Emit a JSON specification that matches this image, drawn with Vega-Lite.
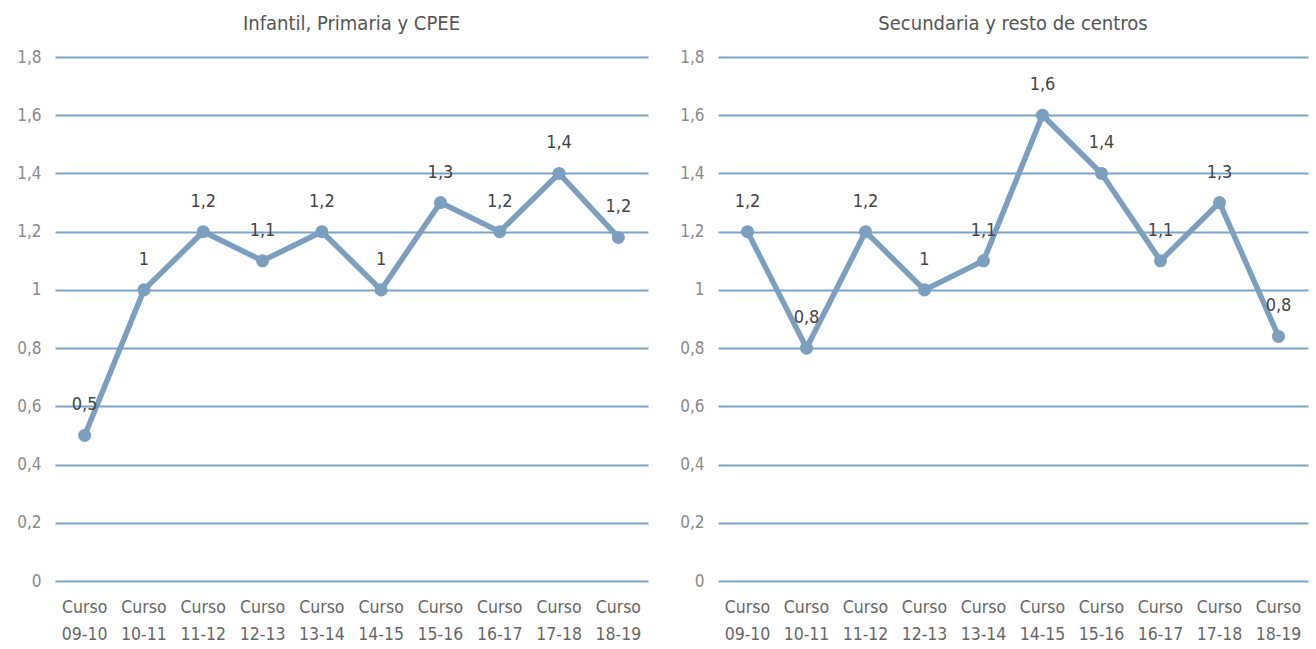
{
  "$schema": "https://vega.github.io/schema/vega-lite/v6.json",
  "background": "white",
  "padding": {"left": 16, "top": 14, "right": 5, "bottom": 5},
  "config": {
    "locale": {"number": {"decimal": ",", "thousands": ".", "grouping": [3], "currency": ["", " €"]}},
    "view": {"stroke": null},
    "font": "DejaVu Sans Condensed, Roboto, sans-serif",
    "concat": {"spacing": 31},
    "title": {"font": "DejaVu Sans Condensed, Roboto, sans-serif", "fontSize": 20, "fontWeight": "normal", "color": "#555555", "anchor": "middle", "offset": 14}
  },
  "datasets": {
    "infantil": [
      {"curso": "Curso 09-10", "valor": 0.5, "etiqueta": "0,5"},
      {"curso": "Curso 10-11", "valor": 1.0, "etiqueta": "1"},
      {"curso": "Curso 11-12", "valor": 1.2, "etiqueta": "1,2"},
      {"curso": "Curso 12-13", "valor": 1.1, "etiqueta": "1,1"},
      {"curso": "Curso 13-14", "valor": 1.2, "etiqueta": "1,2"},
      {"curso": "Curso 14-15", "valor": 1.0, "etiqueta": "1"},
      {"curso": "Curso 15-16", "valor": 1.3, "etiqueta": "1,3"},
      {"curso": "Curso 16-17", "valor": 1.2, "etiqueta": "1,2"},
      {"curso": "Curso 17-18", "valor": 1.4, "etiqueta": "1,4"},
      {"curso": "Curso 18-19", "valor": 1.18, "etiqueta": "1,2"}
    ],
    "secundaria": [
      {"curso": "Curso 09-10", "valor": 1.2, "etiqueta": "1,2"},
      {"curso": "Curso 10-11", "valor": 0.8, "etiqueta": "0,8"},
      {"curso": "Curso 11-12", "valor": 1.2, "etiqueta": "1,2"},
      {"curso": "Curso 12-13", "valor": 1.0, "etiqueta": "1"},
      {"curso": "Curso 13-14", "valor": 1.1, "etiqueta": "1,1"},
      {"curso": "Curso 14-15", "valor": 1.6, "etiqueta": "1,6"},
      {"curso": "Curso 15-16", "valor": 1.4, "etiqueta": "1,4"},
      {"curso": "Curso 16-17", "valor": 1.1, "etiqueta": "1,1"},
      {"curso": "Curso 17-18", "valor": 1.3, "etiqueta": "1,3"},
      {"curso": "Curso 18-19", "valor": 0.84, "etiqueta": "0,8"}
    ]
  },
  "hconcat": [
    {
      "title": "Infantil, Primaria y CPEE",
      "width": 593,
      "height": 524,
      "data": {"name": "infantil"},
      "encoding": {
        "x": {"field": "curso", "type": "ordinal", "sort": null, "title": null,
          "scale": {"type": "band", "paddingInner": 0, "paddingOuter": 0},
          "axis": {"labelAngle": 0, "domain": false, "ticks": false, "labelPadding": 17, "labelFontSize": 17.5, "labelColor": "#666666", "labelLineHeight": 27, "labelExpr": "split(datum.value, ' ')"}},
        "y": {"field": "valor", "type": "quantitative", "title": null,
          "scale": {"domain": [0, 1.8]},
          "axis": {"values": [0, 0.2, 0.4, 0.6, 0.8, 1, 1.2, 1.4, 1.6, 1.8], "format": "~g", "domain": false, "ticks": false, "labelPadding": 14, "labelFontSize": 17, "labelColor": "#8a8a8a", "gridColor": "#7ea4c7", "gridWidth": 2}}
      },
      "layer": [
        {"mark": {"type": "line", "color": "#7c9fc0", "strokeWidth": 5.5}},
        {"mark": {"type": "point", "filled": true, "opacity": 1, "color": "#7c9fc0", "size": 170}},
        {"mark": {"type": "text", "dy": -30, "fontSize": 18, "color": "#444444"}, "encoding": {"text": {"field": "etiqueta"}}}
      ]
    },
    {
      "title": "Secundaria y resto de centros",
      "width": 590,
      "height": 524,
      "data": {"name": "secundaria"},
      "encoding": {
        "x": {"field": "curso", "type": "ordinal", "sort": null, "title": null,
          "scale": {"type": "band", "paddingInner": 0, "paddingOuter": 0},
          "axis": {"labelAngle": 0, "domain": false, "ticks": false, "labelPadding": 17, "labelFontSize": 17.5, "labelColor": "#666666", "labelLineHeight": 27, "labelExpr": "split(datum.value, ' ')"}},
        "y": {"field": "valor", "type": "quantitative", "title": null,
          "scale": {"domain": [0, 1.8]},
          "axis": {"values": [0, 0.2, 0.4, 0.6, 0.8, 1, 1.2, 1.4, 1.6, 1.8], "format": "~g", "domain": false, "ticks": false, "labelPadding": 14, "labelFontSize": 17, "labelColor": "#8a8a8a", "gridColor": "#7ea4c7", "gridWidth": 2}}
      },
      "layer": [
        {"mark": {"type": "line", "color": "#7c9fc0", "strokeWidth": 5.5}},
        {"mark": {"type": "point", "filled": true, "opacity": 1, "color": "#7c9fc0", "size": 170}},
        {"mark": {"type": "text", "dy": -30, "fontSize": 18, "color": "#444444"}, "encoding": {"text": {"field": "etiqueta"}}}
      ]
    }
  ]
}
